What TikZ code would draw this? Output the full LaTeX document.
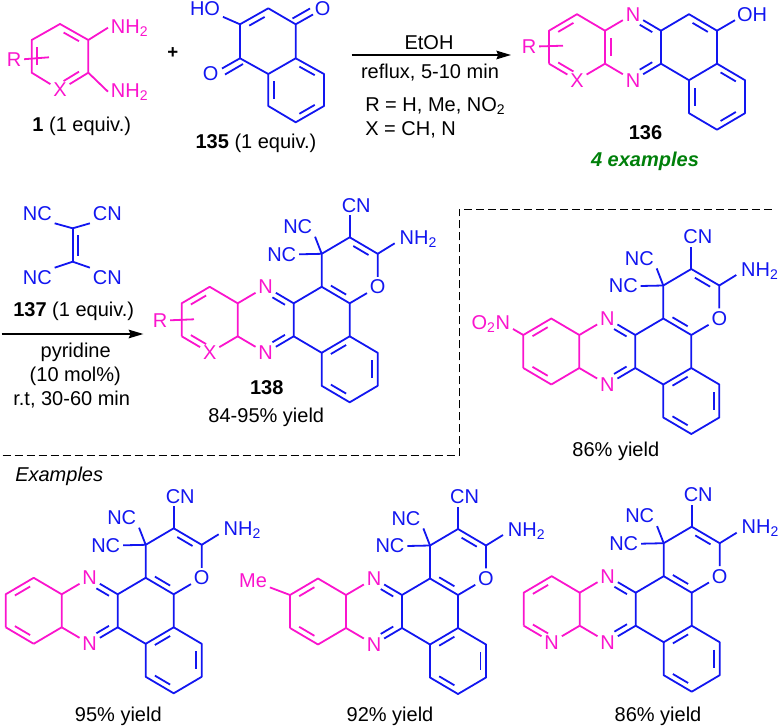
\documentclass[tikz,border=0pt]{standalone}
\usepackage{fontspec}
\setmainfont{Liberation Sans}
\usetikzlibrary{calc,arrows.meta}
\definecolor{chemblue}{RGB}{18,22,240}
\definecolor{chempink}{RGB}{250,20,205}
\definecolor{chemgreen}{RGB}{0,128,10}
\tikzset{
	bluebond/.style={draw=chemblue,line width=1.35pt,line join=round},
	pinkbond/.style={draw=chempink,line width=1.35pt,line join=round},
	blueatom/.style={text=chemblue,inner sep=2pt,font=\fontsize{15}{17}\selectfont},
	pinkatom/.style={text=chempink,inner sep=2pt,font=\fontsize{15}{17}\selectfont},
	note/.style={anchor=base,inner sep=0pt,font=\fontsize{15}{18}\selectfont},
	rxnarrow/.style={line width=1pt,-{Stealth[length=11pt,width=6.5pt,inset=1.5pt]}},
	splitline/.style={line width=1.1pt,dash pattern=on 6pt off 3pt}
}
\def\innerbond[#1](#2)(#3)(#4){\draw[#1] ($(#2)!0.16!(#3)!0.2!(#4)$) -- ($(#3)!0.16!(#2)!0.2!(#4)$);}
\def\tetracycle#1{
	\coordinate (j1) at (0,0);
	\coordinate (j2) at (0,33);
	\coordinate (l1) at (-28,-16.5);
	\coordinate (l2) at (-56,0);
	\coordinate (l3) at (-56,33);
	\coordinate (lc) at (-28,16.5);
	\coordinate (pc) at (28,16.5);
	\coordinate (cc) at (84,16.5);
	\coordinate (bc) at (112,66);
	\coordinate (c1) at (56,0);
	\coordinate (c2) at (56,33);
	\coordinate (c3) at (84,-16.5);
	\coordinate (c4) at (112,0);
	\coordinate (c5) at (112,33);
	\coordinate (c6) at (84,49.5);
	\coordinate (b1) at (84,82.5);
	\coordinate (b2) at (112,99);
	\coordinate (b3) at (140,82.5);
	\coordinate (b4) at (140,49.5);
	\node[pinkatom] (n1) at (28,-16.5) {N};
	\node[pinkatom] (n2) at (28,49.5) {N};
	\ifx\relax#1\relax
		\coordinate (l4) at (-28,49.5);
	\else
		\node[pinkatom] (l4) at (-28,49.5) {#1};
	\fi
	\draw[pinkbond] (l3) -- (l2) -- (l1) -- (j1) -- (j2);
	\draw[pinkbond] (l3) -- (l4);
	\draw[pinkbond] (l4) -- (j2);
	\draw[pinkbond] (n1) -- (j1);
	\draw[pinkbond] (n2) -- (j2);
	\innerbond[pinkbond](l1)(l2)(lc)
	\innerbond[pinkbond](l3)(l4)(lc)
	\draw[bluebond] (n1) -- (c1) -- (c2) -- (n2);
	\draw[bluebond] ($(n1)!0.3!(c1)!0.2!(pc)$) -- ($(c1)!0.14!(n1)!0.2!(pc)$);
	\draw[bluebond] ($(n2)!0.3!(c2)!0.2!(pc)$) -- ($(c2)!0.14!(n2)!0.2!(pc)$);
	\draw[bluebond] (c1) -- (c3) -- (c4) -- (c5) -- (c6) -- (c2);
	\draw[bluebond] (c6) -- (b1) -- (b2) -- (b3) -- (b4) -- (c5);
}
\def\fusedproduct(#1,#2)#3#4{
	\begin{scope}[shift={(#1,#2)},name prefix=#3-]
		\tetracycle{#4}
		\coordinate (oc) at (112,-33);
		\coordinate (p1) at (84,-49.5);
		\coordinate (p2) at (112,-66);
		\coordinate (p3) at (140,-49.5);
		\coordinate (nhend) at (157,-60);
		\node[blueatom] (o1) at (140,-16.5) {O};
		\node[blueatom] (cn) at (118.5,-98) {CN};
		\node[blueatom] (nca) at (60,-76.6) {NC};
		\node[blueatom] (ncb) at (44,-49) {NC};
		\node[blueatom,anchor=base west] (nh) at (159,-59) {NH\textsubscript{2}};
		\draw[bluebond] (c3) -- (p1) -- (p2) -- (p3) -- (o1) -- (c4);
		\draw[bluebond] (p2) -- (p2 |- cn.south);
		\draw[bluebond] (p1) -- (nca.south east);
		\draw[bluebond] (p1) -- (ncb.east);
		\draw[bluebond] (p3) -- (nhend);
		\innerbond[bluebond](p2)(p3)(oc)
		\innerbond[bluebond](c3)(c4)(oc)
		\innerbond[bluebond](c6)(c5)(bc)
		\innerbond[bluebond](b4)(b3)(bc)
		\innerbond[bluebond](b1)(b2)(bc)
	\end{scope}
}

\begin{document}
\begin{tikzpicture}[x=0.75pt,y=-0.75pt]
	%%%%% START %%%%%
	\useasboundingbox (0,0) rectangle (779,728);

	% diamine 1
	\coordinate (a1) at (60,24);
	\coordinate (a2) at (88.3,40);
	\coordinate (a3) at (88.3,72.7);
	\coordinate (a5) at (31.7,72.7);
	\coordinate (a6) at (31.7,40);
	\coordinate (ac) at (60,56.3);
	\coordinate (rend1) at (49,57.3);
	\node[pinkatom] (x1) at (60,90) {X};
	\node[pinkatom] (r1) at (14,60) {R};
	\node[pinkatom,anchor=base west] (nh1) at (108,33) {NH\textsubscript{2}};
	\node[pinkatom,anchor=base west] (nh2) at (108,97) {NH\textsubscript{2}};
	\draw[pinkbond] (x1) -- (a5) -- (a6) -- (a1) -- (a2) -- (a3) -- (x1);
	\draw[pinkbond] (a2) -- (nh1.west);
	\draw[pinkbond] (a3) -- (nh2.west);
	\draw[pinkbond] (r1) -- (rend1);
	\innerbond[pinkbond](a1)(a2)(ac)
	\innerbond[pinkbond](a5)(a6)(ac)
	\innerbond[pinkbond](a3)(x1)(ac)
	\node[note] (lab1) at (81.7,131) {\textbf{1} (1 equiv.)};
	\node[note,font=\fontsize{14}{18}\bfseries\selectfont,anchor=center] (plus) at (172.7,52.7) {+};

	% quinone 135
	\coordinate (q1) at (268.3,8.3);
	\coordinate (q2) at (240,24.3);
	\coordinate (q3) at (240,58.3);
	\coordinate (q4) at (268.3,74);
	\coordinate (q5) at (295.7,58.3);
	\coordinate (q6) at (295.7,24.3);
	\coordinate (q7) at (324,74);
	\coordinate (q8) at (324,106);
	\coordinate (q9) at (295.7,122.3);
	\coordinate (q10) at (268.3,106);
	\coordinate (qa) at (268,41.3);
	\coordinate (qb) at (296,90);
	\node[blueatom] (ho) at (205,9) {HO};
	\node[blueatom] (oa) at (322.7,9) {O};
	\node[blueatom] (ob) at (210.7,73.3) {O};
	\draw[bluebond] (q6) -- (q1) -- (q2) -- (q3) -- (q4) -- (q5) -- (q6);
	\draw[bluebond] (q5) -- (q7) -- (q8) -- (q9) -- (q10) -- (q4);
	\draw[bluebond] (q2) -- (ho);
	\draw[bluebond] (q6) -- (313,14.5);
	\draw[bluebond] (292.5,18.5) -- (310,8.5);
	\draw[bluebond] (q3) -- (222,68.5);
	\draw[bluebond] (243,64) -- (225,74.5);
	\innerbond[bluebond](q1)(q2)(qa)
	\innerbond[bluebond](q5)(q7)(qb)
	\innerbond[bluebond](q8)(q9)(qb)
	\innerbond[bluebond](q10)(q4)(qb)
	\node[note] (lab135) at (256,148) {\textbf{135} (1 equiv.)};

	% first arrow
	\coordinate (arr1a) at (351.7,55);
	\coordinate (arr1b) at (511,55);
	\draw[rxnarrow] (arr1a) -- (arr1b);
	\node[note] (etoh) at (429,49) {EtOH};
	\node[note] (reflux) at (430,78) {reflux, 5-10 min};
	\node[note,anchor=base west] (rdef) at (365,111.7) {R = H, Me, NO\textsubscript{2}};
	\node[note,anchor=base west] (xdef) at (365,135.7) {X = CH, N};

	% product 136
	\begin{scope}[shift={(605,30.7)},name prefix=q-]
		\tetracycle{X}
		\coordinate (ohend) at (130,-10.5);
		\node[blueatom] (oh) at (147,-15.7) {OH};
		\draw[bluebond] (c4) -- (ohend);
		\innerbond[pinkbond](j1)(j2)(pc)
		\innerbond[bluebond](c3)(c4)(cc)
		\innerbond[bluebond](c5)(b4)(bc)
		\innerbond[bluebond](b3)(b2)(bc)
		\innerbond[bluebond](b1)(c6)(bc)
	\end{scope}
	\node[pinkatom] (r136) at (529,46.7) {R};
	\coordinate (rend136) at (563,45.7);
	\draw[pinkbond] (r136) -- (rend136);
	\node[note,font=\fontsize{15}{18}\bfseries\selectfont] (lab136) at (645.5,139) {136};
	\node[note,text=chemgreen,font=\fontsize{15}{18}\bfseries\itshape\selectfont] (four) at (645,166.7) {4 examples};

	% tetracyanoethylene 137
	\coordinate (e1) at (72.7,228.3);
	\coordinate (e2) at (72.7,261.7);
	\coordinate (e3) at (78.3,235);
	\coordinate (e4) at (78.3,255.5);
	\node[blueatom] (nc1) at (37.3,213.3) {NC};
	\node[blueatom] (cn1) at (107.3,213.3) {CN};
	\node[blueatom] (nc2) at (37.3,277.7) {NC};
	\node[blueatom] (cn2) at (107.3,277.7) {CN};
	\draw[bluebond] (e1) -- (e2);
	\draw[bluebond] (e3) -- (e4);
	\draw[bluebond] (e1) -- (nc1.south east);
	\draw[bluebond] (e1) -- (cn1.south west);
	\draw[bluebond] (e2) -- (nc2.north east);
	\draw[bluebond] (e2) -- (cn2.north west);
	\node[note] (lab137) at (73.7,316.7) {\textbf{137} (1 equiv.)};

	% second arrow
	\coordinate (arr2a) at (1.7,334);
	\coordinate (arr2b) at (143.3,334);
	\draw[rxnarrow] (arr2a) -- (arr2b);
	\node[note] (pyr) at (75.7,357.7) {pyridine};
	\node[note] (mol) at (75.3,381.7) {(10 mol\%)};
	\node[note] (rt) at (71.7,405) {r.t, 30-60 min};

	% products
	\fusedproduct(237.7,303.3){p138}{X}
	\node[pinkatom] (r138) at (160,320.7) {R};
	\coordinate (rend138) at (194,319.3);
	\draw[pinkbond] (r138) -- (rend138);
	\node[note,font=\fontsize{15}{18}\bfseries\selectfont] (lab138) at (266.7,394) {138};
	\node[note] (y138) at (266.3,422.3) {84-95\% yield};

	\fusedproduct(579.3,335){nitro}{}
	\node[pinkatom,anchor=base east] (no2) at (513,329.3) {O\textsubscript{2}N};
	\coordinate (no2end) at (513,329);
	\draw[pinkbond] (nitro-l2) -- (no2end);
	\node[note] (ynitro) at (615.8,456.7) {86\% yield};

	% dashed frame
	\coordinate (d1) at (2.7,455.7);
	\coordinate (d2) at (459.3,455.7);
	\coordinate (d3) at (459.3,209.3);
	\coordinate (d4) at (773,209.3);
	\draw[splitline] (d1) -- (d2) -- (d3) -- (d4);
	\node[note,anchor=base west,font=\fontsize{15}{18}\itshape\selectfont] (ex) at (15,481) {Examples};

	\fusedproduct(61.7,594.3){ha}{}
	\node[note] (ya) at (118.3,721.7) {95\% yield};

	\fusedproduct(346,595){hb}{}
	\node[pinkatom] (me) at (253,581) {Me};
	\draw[pinkbond] (hb-l2) -- (me);
	\node[note] (yb) at (390,721.7) {92\% yield};

	\fusedproduct(579.7,592.7){hc}{N}
	\node[note] (yc) at (658,721.7) {86\% yield};
	%%%%% END %%%%%
\end{tikzpicture}
\end{document}
